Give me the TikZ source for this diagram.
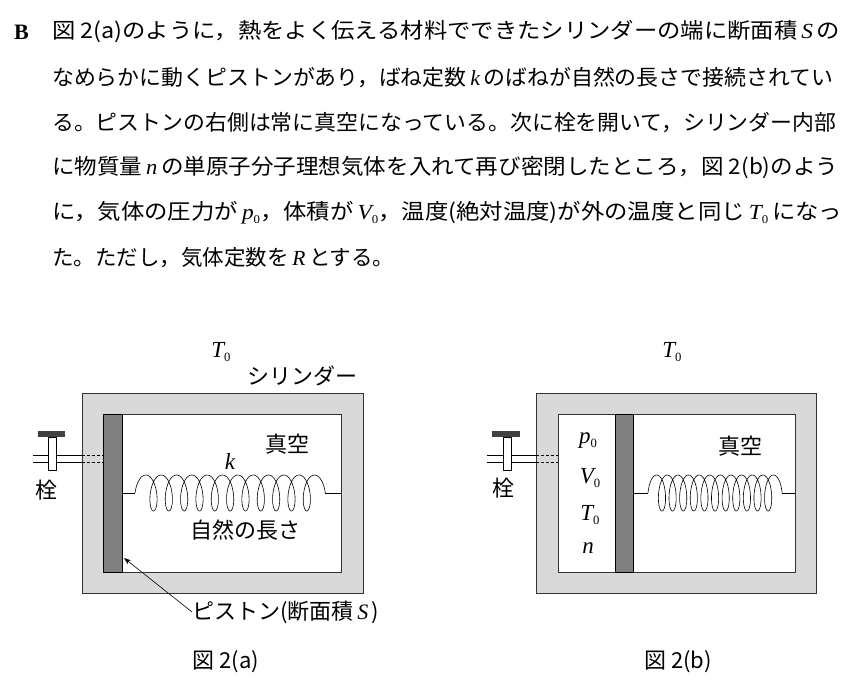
\documentclass[tikz,border=0pt]{standalone}
\usepackage{fontspec}
\usetikzlibrary{arrows.meta}
\setmainfont{Liberation Serif}
\newfontfamily\jp{Noto Sans CJK JP}
\newcommand\lat[1]{{\rmfamily\itshape #1}}
\newcommand\zsub[1]{\raisebox{-0.3ex}{\rmfamily\upshape\scalebox{0.55}{#1}}}
\newcommand\fitline[2]{\resizebox{#1pt}{\height}{#2}}
\begin{document}
\begin{tikzpicture}[x=1pt,y=-1pt,
  ln/.style={anchor=west,inner sep=0pt,font=\jp\fontsize{21.5}{24}\selectfont},
  lb/.style={inner sep=0pt,font=\jp\fontsize{22}{24}\selectfont},
  mt/.style={inner sep=0pt,font=\rmfamily\itshape\fontsize{23}{24}\selectfont},
  wall/.style={fill=black!15,draw=black!80,line width=0.8pt},
  inner/.style={fill=white,draw=black!80,line width=0.8pt},
  piston/.style={fill=black!50,draw=black,line width=0.8pt},
  sp/.style={line width=0.6pt}]
\useasboundingbox (0,0) rectangle (861,687);
% paragraph
\node[anchor=west,inner sep=0pt,font=\bfseries\fontsize{22}{24}\selectfont] (B) at (14,32) {B};
\node[ln] (l1) at (52,32) {\fitline{788}{図 2(a)のように，熱をよく伝える材料でできたシリンダーの端に断面積\,\lat{S}\,の}};
\node[ln] (l2) at (52,78) {\fitline{781}{なめらかに動くピストンがあり，ばね定数\,\lat{k}\,のばねが自然の長さで接続されてい}};
\node[ln] (l3) at (52,123) {\fitline{784}{る。ピストンの右側は常に真空になっている。次に栓を開いて，シリンダー内部}};
\node[ln] (l4) at (52,168) {\fitline{786}{に物質量\,\lat{n}\,の単原子分子理想気体を入れて再び密閉したところ，図 2(b)のよう}};
\node[ln] (l5) at (52,213) {\fitline{790}{に，気体の圧力が\,\lat{p}\zsub{0}，体積が\,\lat{V}\zsub{0}，温度(絶対温度)が外の温度と同じ\,\lat{T}\zsub{0}\,になっ}};
\node[ln] (l6) at (52,258) {た。ただし，気体定数を\,\lat{R}\,とする。};
% ===== Fig a
\draw[wall] (82,393) rectangle (363,593);
\draw[inner] (103,414) rectangle (341,572);
\draw[piston] (103,414) rectangle (122,572);
\draw[sp] (122,493) -- (135,493);
\draw[sp,smooth] plot[domain=0:23*pi,samples=500,variable=\t] ({135+2.44*\t-7*cos(\t r)+7},{493-18*sin(\t r)});
\draw[sp] (325,493) -- (341,493);
% valve a
\draw[sp] (33,455) -- (82,455) (33,462) -- (82,462);
\draw[sp,dashed,dash pattern=on 3pt off 2pt] (82,455) -- (103,455) (82,462) -- (103,462);
\draw[fill=white,line width=0.6pt] (48,437) rectangle (56,470);
\fill[black!75] (38,431) rectangle (65,437);
\node[lb] (sena) at (46,490) {栓};
\node[lb] (vaca) at (287,444) {真空};
\node[mt] (ka) at (230,462) {k};
\node[lb] (natural) at (245,530) {自然の長さ};
\node[mt] (Ta) at (221,352) {T\zsub{0}};
\node[lb] (cyl) at (302,376) {シリンダー};
\node[lb,anchor=west] (pis) at (192,612) {ピストン(断面積\,\lat{S}\,)};
\coordinate (pt) at (124,558);
\draw[-{Stealth[length=7pt,width=5pt]},line width=0.6pt] (pis.west) -- (pt);
\node[lb] (figa) at (226,662) {図 2(a)};
% ===== Fig b
\draw[wall] (536,393) rectangle (816,593);
\draw[inner] (558,414) rectangle (795,572);
\draw[piston] (615,414) rectangle (633,572);
\draw[sp] (633,493) -- (648,493);
\draw[sp,smooth] plot[domain=0:23*pi,samples=500,variable=\t] ({648+1.69*\t-6*cos(\t r)+6},{493-18*sin(\t r)});
\draw[sp] (782,493) -- (795,493);
\draw[sp] (487,455) -- (536,455) (487,462) -- (536,462);
\draw[sp,dashed,dash pattern=on 3pt off 2pt] (536,455) -- (558,455) (536,462) -- (558,462);
\draw[fill=white,line width=0.6pt] (503,437) rectangle (511,470);
\fill[black!75] (492,431) rectangle (520,437);
\node[lb] (senb) at (503,488) {栓};
\node[lb] (vacb) at (740,446) {真空};
\node[mt] (pb) at (588,441) {p\zsub{0}};
\node[mt] (Vb) at (590,478) {V\zsub{0}};
\node[mt] (Tb) at (590,515) {T\zsub{0}};
\node[mt] (nb) at (588,548) {n};
\node[mt] (Tbo) at (672,352) {T\zsub{0}};
\node[lb] (figb) at (678,662) {図 2(b)};
\end{tikzpicture}
\end{document}
